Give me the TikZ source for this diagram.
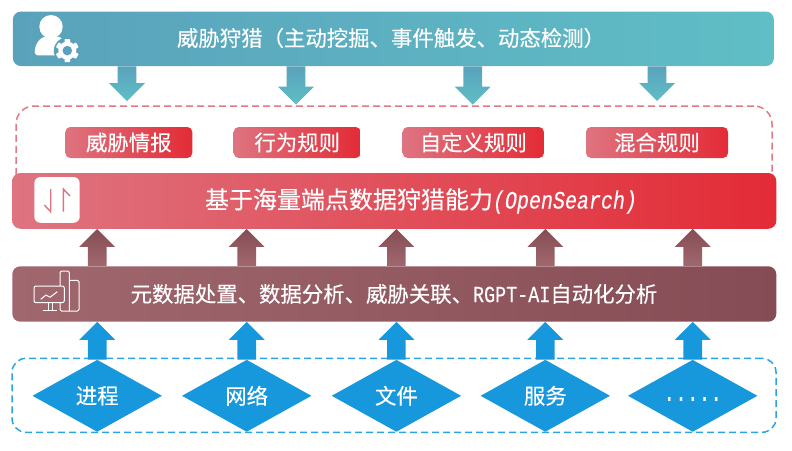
\documentclass[tikz,border=0pt]{standalone}
\usepackage{fontspec}
\usepackage{xcolor}
\usetikzlibrary{calc, shapes.geometric}
\newfontfamily\cjk[FakeBold=0.3]{Noto Sans CJK SC}
\newfontfamily\latinmono[FakeStretch=0.8, FakeBold=0.3]{Liberation Mono}
\definecolor{huntdark}{HTML}{5AA2BB}
\definecolor{huntlight}{HTML}{5FBEC6}
\definecolor{rulepink}{HTML}{DE7480}
\definecolor{rulemid}{HTML}{DF5F6B}
\definecolor{rulered}{HTML}{E32B36}
\definecolor{metalight}{HTML}{A0686E}
\definecolor{metadark}{HTML}{864C55}
\definecolor{sourceblue}{HTML}{1798DD}
\definecolor{framered}{HTML}{E27A86}
\definecolor{frameblue}{HTML}{2BA3E5}
\tikzset{
  barbox/.style={rounded corners=8pt, inner sep=0pt, minimum width=764pt},
  rulebox/.style={rounded corners=5pt, inner sep=0pt, minimum height=31pt, left color=rulepink, middle color=rulemid, right color=rulered, text=white, font=\cjk\fontsize{21.4}{24}\selectfont},
  source/.style={diamond, fill=sourceblue, inner sep=0pt, minimum width=129.5pt, minimum height=72pt, text=white, font=\cjk\fontsize{21.4}{24}\selectfont},
  barlabel/.style={inner sep=0pt, text=white, font=\cjk\fontsize{21.4}{24}\selectfont},
  iconline/.style={white, line width=1pt, line join=round}
}
% block arrow: style, start, tip
\newcommand{\blockarrow}[3]{
  \coordinate (hb) at ($(#3)!18pt!(#2)$);
  \path[#1] ($(#2)!9.3pt!90:(#3)$) -- ($(hb)!9.3pt!90:(#3)$) -- ($(hb)!18pt!90:(#3)$) -- (#3)
    -- ($(hb)!18pt!-90:(#3)$) -- ($(hb)!9.3pt!-90:(#3)$) -- ($(#2)!9.3pt!-90:(#3)$) -- cycle;
}
\begin{document}
\begin{tikzpicture}[x=1pt, y=-1pt]
    \useasboundingbox (0,0) rectangle (792,450);

    % Dashed frames
    \node[draw=framered, line width=1.5pt, dash pattern=on 7pt off 4pt, rounded corners=18pt, inner sep=0pt, minimum width=756pt, minimum height=84pt] (ruleframe) at (394,148) {};
    \node[draw=frameblue, line width=1.5pt, dash pattern=on 7pt off 4pt, rounded corners=14pt, inner sep=0pt, minimum width=764pt, minimum height=74pt] (sourceframe) at (394,395.3) {};

    % Bars
    \node[barbox, minimum width=761pt, minimum height=54.5pt, left color=huntdark, right color=huntlight] (hunt) at (393.4,38.8) {};
    \node[barbox, minimum height=55.7pt, left color=rulepink, middle color=rulemid, right color=rulered] (search) at (394.3,200.9) {};
    \node[barbox, minimum height=55.4pt, left color=metalight, right color=metadark] (meta) at (394.3,294) {};
    \node[barlabel] (huntlabel) at (391,38) {威胁狩猎（主动挖掘、事件触发、动态检测）};
    \node[barlabel, font=\cjk\fontsize{24}{28}\selectfont] (searchlabel) at (421,201) {基于海量端点数据狩猎能力{\latinmono\itshape\fontsize{25}{28}\selectfont (OpenSearch)}};
    \node[barlabel] (metalabel) at (394,294) {元数据处置、数据分析、威胁关联、{\latinmono\fontsize{23}{24}\selectfont RGPT-AI}自动化分析};

    % Rule boxes
    \node[rulebox, minimum width=127pt] (intel) at (128.8,142.5) {威胁情报};
    \node[rulebox, minimum width=127pt] (behave) at (297.2,142.5) {行为规则};
    \node[rulebox, minimum width=141.3pt] (custom) at (473.3,142.5) {自定义规则};
    \node[rulebox, minimum width=142pt] (mixed) at (657,142.5) {混合规则};

    % Data sources
    \node[source] (proc) at (97.2,395.8) {进程};
    \node[source] (net) at (246.7,395.8) {网络};
    \node[source] (file) at (396.4,395.8) {文件};
    \node[source] (svc) at (545.3,395.8) {服务};
    \node[source, font=\latinmono\fontsize{24.4}{24}\selectfont, text height=10pt, text depth=0pt] (more) at (692.7,395.8) {.....};

    % Arrows out of the top bar
    \coordinate (tipa) at (127,101);
    \coordinate (tipb) at (296,104.7);
    \coordinate (tipc) at (472.7,104.7);
    \coordinate (tipd) at (657,101);
    \foreach \tip in {tipa,tipb,tipc,tipd}
        \blockarrow{top color=huntdark, bottom color=huntlight}{\tip |- hunt.south}{\tip};

    % Arrows between the lower layers
    \foreach \src in {proc,net,file,svc,more} {
        \blockarrow{top color=metadark, bottom color=metalight}{\src |- meta.north}{\src |- search.south};
        \blockarrow{fill=sourceblue}{\src.north}{\src |- meta.south};
    }

    % Person icon
    \fill[white] (51,26.7) circle (11.7pt);
    \fill[white, rounded corners=2pt] (35,55.3) .. controls (34,44) and (41,37) .. (47,36.5) -- (56,36.5) .. controls (62,37) and (66,42) .. (67,48) -- (67,55.3) -- cycle;
    \fill[huntdark] (67.3,50.6) circle (13.5pt);
    \fill[white] (67.3,50.6) circle (9pt);
    \foreach \ang in {0,60,...,300}
        \fill[white, rotate around={\ang:(67.3,50.6)}, rounded corners=0.6pt] (64.5,39) rectangle (70.1,44);
    \fill[huntdark] (67.3,50.6) circle (4.8pt);

    % Switch icon
    \node[fill=white, rounded corners=6pt, inner sep=0pt, minimum width=45.4pt, minimum height=45.7pt] (switch) at (57,199.9) {};
    \draw[rulepink, line width=1.4pt] (44.3,205) -- (50.7,211.7) -- (50.7,189);
    \draw[rulepink, line width=1.4pt] (70,196) -- (63.3,189) -- (63.3,211.7);

    % Monitor icon
    \draw[iconline, rounded corners=2pt] (60,290) -- (60,271) -- (69.3,271) -- (69.3,311);
    \draw[iconline, rounded corners=1.5pt] (69.3,280.3) -- (79,280.3) -- (79,311) -- (60,311) -- (60,300);
    \draw[iconline, fill=metalight, rounded corners=2pt] (34,286) rectangle (64.3,302.7);
    \draw[iconline] (48.3,302.7) -- (48.3,310.7) (52.7,302.7) -- (52.7,310.7) (43.3,310.7) -- (57.3,310.7);
    \draw[iconline] (40.7,299.3) -- (46,295) -- (50,297.3) -- (57.3,291.7);
\end{tikzpicture}
\end{document}
